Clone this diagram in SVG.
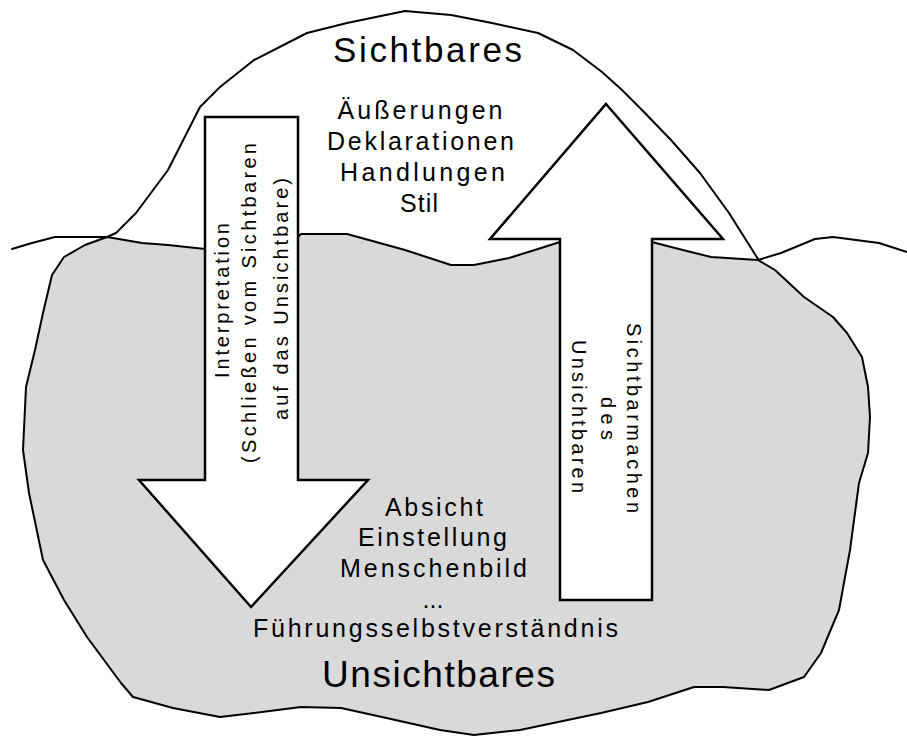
<svg xmlns="http://www.w3.org/2000/svg" width="907" height="738" viewBox="0 0 907 738">
  <style>
    .line { fill: none; stroke: #000; stroke-width: 2; stroke-linejoin: round; stroke-linecap: round; }
    .gray { fill: #d9d9d9; stroke: #000; stroke-width: 2; stroke-linejoin: round; }
    .arrow { fill: #fff; stroke: #000; stroke-width: 2.5; stroke-linejoin: miter; }
    text { font-family: "Liberation Sans", Arial, sans-serif; fill: #000; text-anchor: middle; }
    .big { font-size: 36px; }
    .mid { font-size: 25px; }
    .small { font-size: 20px; }
  </style>
  <rect width="907" height="738" fill="#fff"/>

  <g id="unsichtbares-region">
    <path class="gray" d="M107,237 L142,243 L168,245 L205,249 L298,237 L301,234 L347,234 L376,242 L405,250 L451,265 L474,265 L509,258 L538,249 L560,242 L652,242 L671,247 L711,257 L758,260 L775,270 L804,297 L833,317 L847,333 L862,357 L868,387 L870,417 L868,453 L859,483 L850,550 L839,610 L821,653 L804,677 L769,690 L723,687 L694,687 L648,702 L601,713 L520,730 L474,735 L440,730 L382,717 L341,708 L301,707 L254,713 L220,717 L173,708 L133,697 L121,683 L87,637 L64,600 L43,560 L29,493 L23,450 L26,387 L35,350 L43,313 L52,275 L64,257 L85,245 Z"/>
    <text class="big" x="438.5" y="687" textLength="233" lengthAdjust="spacing" style="font-size:37px">Unsichtbares</text>
    <text class="mid" x="434" y="516" textLength="98" lengthAdjust="spacing">Absicht</text>
    <text class="mid" x="432.5" y="546" textLength="149" lengthAdjust="spacing">Einstellung</text>
    <text class="mid" x="433.5" y="577" textLength="187" lengthAdjust="spacing">Menschenbild</text>
    <text class="mid" x="433" y="608">...</text>
    <text class="mid" x="435.5" y="637" textLength="365" lengthAdjust="spacing">Führungsselbstverständnis</text>
  </g>

  <g id="sichtbares-region">
    <path class="line" d="M107,237 L116,233 L136,213 L168,170 L200,107 L220,87 L254,60 L307,33 L347,23 L405,11 L451,15 L492,23 L538,33 L573,50 L602,72 L622,90 L642,110 L671,140 L700,173 L729,213 L758,259"/>
    <path class="line" d="M12,249 L32,243 L55,237 L107,237"/>
    <path class="line" d="M758,260 L781,253 L815,239 L833,237 L879,243 L907,252"/>
    <text class="big" x="427.5" y="62" textLength="189" lengthAdjust="spacing" style="font-size:35px">Sichtbares</text>
    <text class="mid" x="420" y="118.5" textLength="165" lengthAdjust="spacing">Äußerungen</text>
    <text class="mid" x="420.5" y="149.5" textLength="187" lengthAdjust="spacing">Deklarationen</text>
    <text class="mid" x="422.5" y="180.5" textLength="165" lengthAdjust="spacing">Handlungen</text>
    <text class="mid" x="419" y="211.5" textLength="38" lengthAdjust="spacing">Stil</text>
  </g>

  <g id="connectors">
    <g id="arrow-interpretation">
      <path class="arrow" d="M205,117 L298,117 L298,480 L368,480 L251,607 L139,480 L205,480 Z"/>
      <text class="small" transform="translate(229,300.5) rotate(-90)" textLength="155" lengthAdjust="spacing">Interpretation</text>
      <text class="small" transform="translate(256,303) rotate(-90)" textLength="320" lengthAdjust="spacing">(Schließen vom Sichtbaren</text>
      <text class="small" transform="translate(288,299) rotate(-90)" textLength="242" lengthAdjust="spacing">auf das Unsichtbare)</text>
    </g>
    <g id="arrow-sichtbarmachen">
      <path class="arrow" d="M606,104 L723,239 L652,239 L652,600 L560,600 L560,239 L490,239 Z"/>
      <text class="small" transform="translate(627,418) rotate(90)" textLength="190" lengthAdjust="spacing">Sichtbarmachen</text>
      <text class="small" transform="translate(601,418.5) rotate(90)" textLength="43" lengthAdjust="spacing">des</text>
      <text class="small" transform="translate(572,416.5) rotate(90)" textLength="153" lengthAdjust="spacing">Unsichtbaren</text>
    </g>
  </g>
</svg>
